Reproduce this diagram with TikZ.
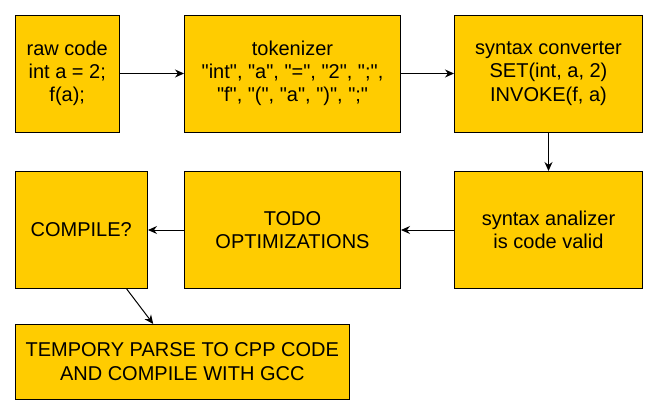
\documentclass[tikz,border=0pt]{standalone}
\usepackage{fontspec}
\setmainfont{Liberation Sans}[Ligatures=TeXOff]
\usetikzlibrary{arrows.meta}
\definecolor{boxfill}{HTML}{FFCC00}
\newcommand\dq{\symbol{34}}
\begin{document}
\begin{tikzpicture}[x=1pt,y=-1pt,
  box/.style={draw=black,line width=1pt,fill=boxfill,align=center,inner sep=0pt,
    font=\fontsize{20}{23.3}\selectfont,text=black},
  conn/.style={draw=black,line width=1pt,-{Stealth[length=9pt,width=8pt,inset=3pt]}}]
\useasboundingbox (0,0) rectangle (658,415);
\node[box,minimum width=104.5pt,minimum height=117pt] (raw) at (67.25,73.5) {raw code\\int a = 2;\\f(a);};
\node[box,minimum width=216pt,minimum height=117pt] (tok) at (292.5,73.5) {tokenizer\\\dq int\dq, \dq a\dq, \dq=\dq, \dq 2\dq, \dq;\dq,\\\dq f\dq, \dq(\dq, \dq a\dq, \dq)\dq, \dq;\dq};
\node[box,minimum width=188pt,minimum height=117pt] (conv) at (548.5,73.5) {syntax converter\\SET(int, a, 2)\\INVOKE(f, a)};
\node[box,minimum width=188pt,minimum height=117pt] (ana) at (548.5,230) {syntax analizer\\is code valid};
\node[box,minimum width=216pt,minimum height=117pt] (todo) at (292.5,230) {TODO\\OPTIMIZATIONS};
\node[box,minimum width=132.5pt,minimum height=117pt] (comp) at (81.25,230) {COMPILE?};
\node[box,minimum width=334.5pt,minimum height=74.5pt] (temp) at (182.25,361.75) {TEMPORY PARSE TO CPP CODE\\AND COMPILE WITH GCC};
\draw[conn] (raw) -- (tok);
\draw[conn] (tok) -- (conv);
\draw[conn] (conv) -- (ana);
\draw[conn] (ana) -- (todo);
\draw[conn] (todo) -- (comp);
\draw[conn] ([xshift=45.45pt]comp.south) -- ([xshift=-29pt]temp.north);
\end{tikzpicture}
\end{document}
